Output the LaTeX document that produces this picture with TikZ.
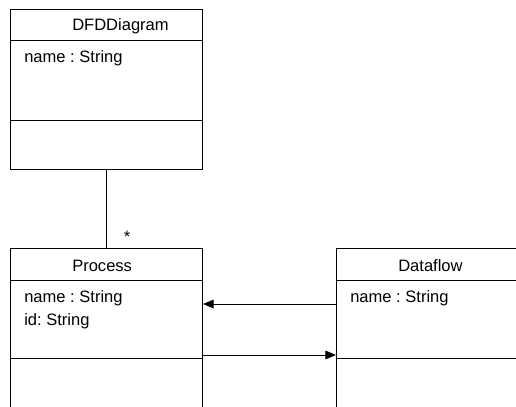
\documentclass[tikz,border=0pt]{standalone}
\usepackage{fontspec}
\setmainfont{Liberation Sans}
\usetikzlibrary{arrows.meta,calc}
\frenchspacing
\begin{document}
\begin{tikzpicture}[x=0.75pt,y=-0.75pt,
  classbox/.style={draw=black,line width=0.75pt,rectangle,anchor=north west,
    minimum width=144pt,minimum height=127.5pt,inner sep=0pt},
  lbl/.style={font=\fontsize{12.4pt}{14pt}\selectfont,inner sep=0pt,anchor=base west},
  sep/.style={draw=black,line width=0.75pt},
  conn/.style={draw=black,line width=0.75pt},
  arr/.style={conn,-{Triangle[length=8pt,width=6.5pt]}}]
\useasboundingbox (0,0) rectangle (516,406);
\clip (0,0) rectangle (516,406);
% DFDDiagram
\node[classbox,minimum height=120pt] (dfd) at (10,9) {};
\draw[sep] (10,41) -- (202,41);
\draw[sep] (10,120) -- (202,120);
\node[lbl] (dfdt) at (72,31) {DFDDiagram};
\node[lbl] (dfda) at (24,63) {name : String};
% Process
\node[classbox] (proc) at (10,248) {};
\draw[sep] (10,280) -- (202,280);
\draw[sep] (10,358) -- (202,358);
\node[lbl] (proct) at (72,271) {Process};
\node[lbl] (proca) at (24,302) {name : String};
\node[lbl] (procb) at (24,325) {id: String};
% Dataflow
\node[classbox] (df) at (336,248) {};
\draw[sep] (336,280) -- (528,280);
\draw[sep] (336,358) -- (528,358);
\node[lbl] (dft) at (398,271) {Dataflow};
\node[lbl] (dfa) at (350,302) {name : String};
% connectors
\draw[conn] (dfd.south) -- (dfd.south |- proc.north);
\node[font=\fontsize{12.4pt}{14pt}\selectfont,inner sep=0pt] (mult) at (127,237) {*};
\draw[arr] ($(df.north west)+(0,56)$) -- ($(proc.north east)+(0,56)$);
\draw[arr] ($(proc.north east)+(0,107)$) -- ($(df.north west)+(0,107)$);
\end{tikzpicture}
\end{document}
